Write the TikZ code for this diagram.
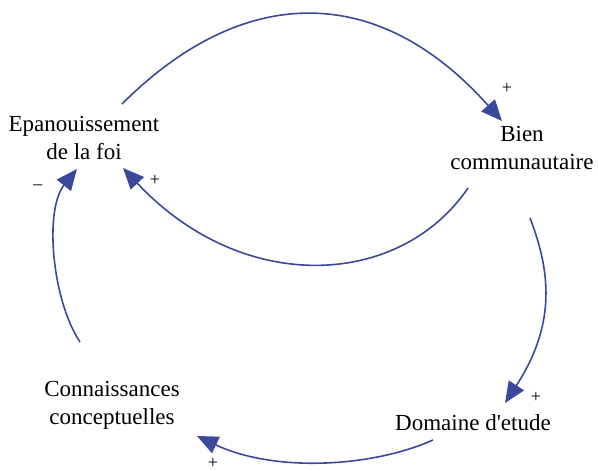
\documentclass[tikz,border=0pt]{standalone}
\usepackage{fontspec}
\setmainfont{Liberation Serif}
\usetikzlibrary{arrows.meta}
\definecolor{loopblue}{RGB}{59,72,156}
\begin{document}
\begin{tikzpicture}[x=1pt,y=-1pt,
  concept/.style={align=center,inner sep=0pt,font=\fontsize{23}{28}\selectfont},
  sign/.style={inner sep=0pt,font=\fontsize{18}{20}\selectfont},
  link/.style={draw=loopblue,line width=1.6pt,-{Triangle[length=21pt,width=18pt]}}]
\useasboundingbox (0,0) rectangle (598,471);
\node[concept] (epa) at (84,138) {Epanouissement\\de la foi};
\node[concept] (bien) at (522,148) {Bien\\communautaire};
\node[concept] (dom) at (473,423) {Domaine d\textquotesingle etude};
\node[concept] (conn) at (112,405) {Connaissances\\conceptuelles};
\node[sign] (s1) at (507,88) {+};
\node[sign] (s2) at (155,180) {+};
\node[sign] (s3) at (536,397) {+};
\node[sign] (s4) at (213,463) {+};
\node[sign] (s5) at (38,187) {–};
\draw[link] ([shift={(38,-34)}]epa.center) .. controls +(120,-120) and +(-125,-140) .. ([shift={(-20,-27)}]bien.center);
\draw[link] ([shift={(-54,40)}]bien.center) .. controls +(-68,100) and +(120,128) .. ([shift={(39,30)}]epa.center);
\draw[link] ([shift={(8,70)}]bien.center) .. controls +(20,52) and +(52,-80) .. ([shift={(32,-20)}]dom.center);
\draw[link] ([shift={(-40,17)}]dom.center) .. controls +(-63,28) and +(76,36) .. ([shift={(85,31)}]conn.center);
\draw[link] ([shift={(-32,-63)}]conn.center) .. controls +(-28,-42) and +(-33,41) .. ([shift={(-7,31)}]epa.center);
\end{tikzpicture}
\end{document}
